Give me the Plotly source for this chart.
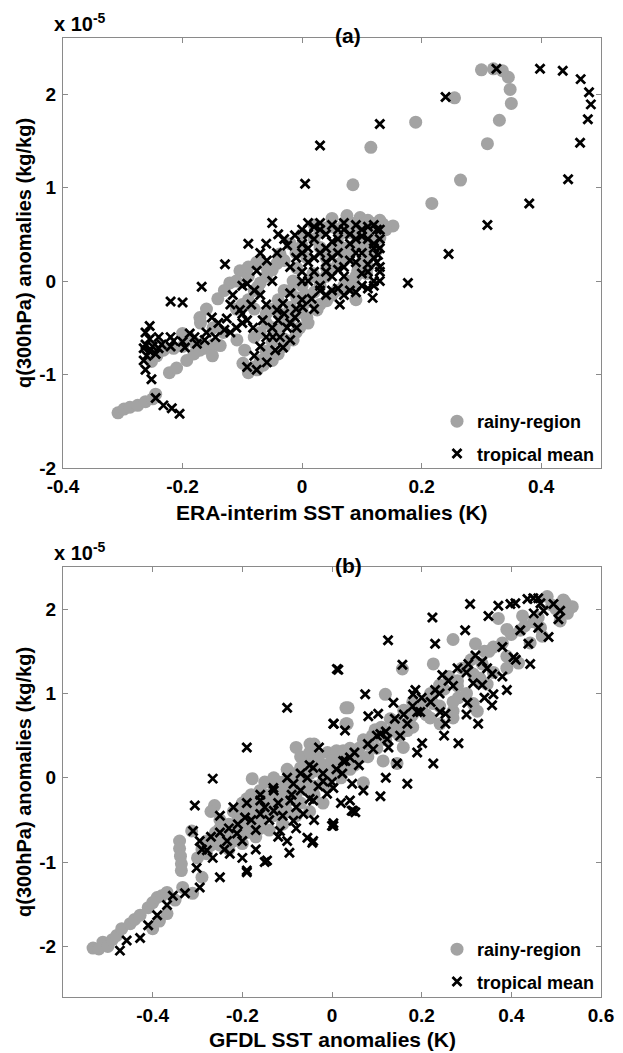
import plotly.graph_objects as go

# ---------------- Panel (a): ERA-interim ----------------
a_rainy_x = [-0.308,-0.298,-0.288,-0.275,-0.262,-0.25,-0.245,-0.222,-0.21,
             -0.252,-0.243,-0.232,-0.215,-0.2,-0.193,-0.181,-0.171,-0.16,-0.149,-0.137,-0.132,-0.149,-0.171,-0.2,
             -0.141,-0.121,-0.104,-0.076,-0.074,-0.09,
             -0.109,-0.096,-0.099,-0.09,-0.075,-0.065,-0.06,-0.049,-0.037,-0.02,-0.009,0.005,-0.015,-0.004,0.008,
             0.025,0.041,0.058,0.075,0.093,0.108,0.125,0.13,0.135,0.097,0.075,0.05,0.041,0.063,0.092,0.03,0.008,
             -0.009,-0.042,-0.037,0.108,0.085,0.018,0.041,0.051,0.075,0.03,-0.015,0.152,0.115,0.02,0.0,-0.03,-0.04,
             -0.05,0.06,0.1,0.11,0.09,0.07,-0.06,-0.08,-0.03,-0.02,0.12,0.14,
             -0.08,-0.07,-0.06,-0.05,-0.04,-0.03,-0.02,-0.01,0.0,0.01,0.02,0.03,0.04,0.05,0.06,0.07,0.08,0.09,
             0.1,0.11,0.12,0.13,0.11,0.09,0.07,0.05,0.03,0.02,0.0,-0.01,-0.03,-0.05,-0.06,-0.07,-0.08,-0.09,
             -0.1,-0.11,-0.06,-0.07,-0.08,-0.05,-0.04,-0.02,0.0,0.02,0.04,0.06,0.08,0.1,0.12,0.11,0.1,0.09,
             0.07,0.05,0.03,0.01,-0.01,-0.03,-0.17,-0.16,-0.13,-0.11,-0.09,-0.07,-0.06,-0.19,-0.18,-0.15,
             0.085,0.217,0.265,0.31,0.33,0.35,0.348,0.345,0.335,0.32,0.3,0.255,0.19,0.115]
a_rainy_y = [-1.41,-1.37,-1.35,-1.33,-1.29,-1.26,-1.21,-0.98,-0.93,
             -0.86,-0.8,-0.74,-0.72,-0.7,-0.85,-0.78,-0.74,-0.72,-0.68,-0.69,-0.55,-0.5,-0.39,-0.56,
             -0.19,-0.02,0.11,0.2,-0.06,0.05,
             -0.63,-0.74,-0.88,-0.98,-0.95,-0.9,-0.82,-0.5,-0.35,-0.28,-0.18,-0.15,-0.63,-0.5,-0.39,
             -0.31,-0.21,-0.1,0.0,0.11,0.22,0.33,0.46,0.61,0.68,0.7,0.67,0.57,0.5,0.48,0.36,0.25,
             0.14,0.19,0.29,0.08,-0.07,0.08,0.14,0.33,0.25,0.0,0.0,0.59,0.62,0.6,0.5,-0.7,-0.78,
             -0.85,0.55,0.4,0.15,-0.2,0.35,-0.35,-0.3,-0.1,0.4,0.52,0.55,
             -0.92,-0.85,-0.75,-0.65,-0.55,-0.45,-0.4,-0.35,-0.3,-0.22,-0.12,-0.05,0.05,0.12,0.18,0.25,0.3,0.38,
             0.45,0.55,0.6,0.65,0.65,0.62,0.6,0.58,0.52,0.45,0.38,0.3,0.22,0.12,0.05,-0.02,-0.1,-0.2,
             -0.25,-0.3,-0.45,-0.55,-0.6,-0.3,-0.2,-0.1,-0.05,0.05,0.25,0.4,0.52,0.58,0.45,0.35,0.2,0.05,
             -0.05,-0.15,-0.25,-0.45,-0.55,-0.62,-0.45,-0.3,-0.1,0.0,0.15,0.22,0.15,-0.6,-0.66,-0.8,
             1.03,0.83,1.08,1.47,1.72,1.9,2.05,2.18,2.25,2.27,2.26,1.96,1.7,1.43]

a_trop_x = [-0.205,-0.218,-0.232,-0.245,-0.252,-0.262,-0.265,-0.26,-0.255,-0.245,-0.25,-0.262,-0.235,-0.215,
            -0.262,-0.255,-0.22,-0.2,
            -0.168,-0.129,-0.09,-0.05,-0.151,-0.126,-0.188,-0.176,-0.196,-0.163,-0.145,-0.13,
            -0.116,-0.092,-0.076,-0.059,-0.042,-0.025,-0.012,0.0,0.01,
            -0.092,-0.076,-0.059,-0.045,-0.037,-0.025,-0.012,0.001,0.016,0.03,-0.104,-0.092,-0.082,-0.066,
            -0.042,-0.032,-0.02,-0.049,-0.032,-0.02,-0.009,-0.1,-0.085,
            0.0,0.02,0.03,0.05,0.07,0.09,0.11,0.125,0.13,0.12,0.1,0.08,0.06,0.04,0.02,0.05,0.07,0.09,0.11,
            0.125,0.13,0.12,0.1,0.08,0.06,0.04,0.06,0.1,0.127,0.118,0.063,0.177,-0.05,0.0,0.01,
            0.0,0.01,0.02,0.03,0.04,0.05,0.06,0.07,0.08,0.09,0.1,0.11,0.12,0.13,0.13,0.12,0.11,0.13,0.12,
            0.1,0.09,0.08,0.07,0.06,0.05,0.04,0.03,0.02,0.01,-0.01,-0.02,0.0,0.01,0.03,0.05,0.07,0.09,0.11,
            0.13,0.12,-0.03,-0.04,-0.06,-0.07,
            -0.1,-0.11,-0.12,-0.08,-0.07,-0.06,-0.05,-0.04,-0.03,-0.02,-0.01,0.0,0.02,0.04,-0.06,-0.07,-0.08,
            -0.1,-0.12,-0.14,-0.16,-0.18,-0.2,-0.22,-0.24,-0.265,-0.255,-0.24,-0.22,
            0.005,0.03,0.13,0.24,0.325,0.398,0.436,0.466,0.48,0.483,0.478,0.465,0.445,0.38,0.31,0.245]
a_trop_y = [-1.42,-1.36,-1.33,-1.25,-1.05,-0.95,-0.85,-0.8,-0.75,-0.78,-0.7,-0.68,-0.68,-0.64,
            -0.55,-0.48,-0.22,-0.23,
            -0.06,0.18,0.4,0.62,-0.39,-0.4,-0.56,-0.67,-0.71,-0.63,-0.6,-0.52,
            -0.15,-0.03,0.11,0.22,0.3,0.38,0.49,0.55,0.62,
            -0.92,-0.95,-0.87,-0.74,-0.6,-0.5,-0.39,-0.28,-0.19,-0.1,-0.31,-0.42,-0.5,-0.42,
            -0.31,-0.24,-0.13,-0.6,-0.71,-0.63,-0.5,-0.35,-0.25,
            0.3,0.45,0.55,0.6,0.55,0.6,0.58,0.55,0.45,0.35,0.3,0.4,0.3,0.2,0.1,0.05,0.15,0.2,0.18,
            0.2,0.1,0.0,-0.05,-0.1,-0.08,0.35,0.45,0.48,0.28,-0.18,-0.25,-0.02,0.0,0.0,0.2,
            0.4,0.5,0.58,0.62,0.5,0.42,0.55,0.62,0.5,0.45,0.55,0.45,0.6,0.55,0.35,0.25,0.1,0.0,-0.05,
            0.08,0.3,0.22,0.05,0.12,0.25,0.1,0.3,0.25,0.35,0.25,0.15,0.1,0.0,-0.05,-0.1,-0.15,-0.12,-0.08,
            0.15,0.4,0.45,0.5,0.4,0.3,
            -0.45,-0.5,-0.55,-0.8,-0.7,-0.6,-0.5,-0.42,-0.35,-0.45,-0.3,-0.2,-0.3,-0.15,-0.25,-0.15,-0.1,
            -0.05,-0.25,-0.45,-0.55,-0.6,-0.65,-0.7,-0.72,-0.72,-0.62,-0.6,-0.6,
            1.04,1.45,1.68,1.97,2.27,2.27,2.25,2.16,2.02,1.89,1.73,1.48,1.09,0.83,0.6,0.29]

# ---------------- Panel (b): GFDL ----------------
b_rainy_x = [-0.533,-0.52,-0.511,-0.5,-0.49,-0.48,-0.469,-0.45,-0.44,-0.428,-0.41,-0.4,-0.39,-0.38,-0.368,
             -0.4,-0.385,-0.368,-0.35,-0.333,-0.311,
             -0.34,-0.34,-0.338,-0.336,-0.336,-0.313,-0.29,-0.262,-0.266,-0.178,-0.08,-0.04,0.031,0.031,
             -0.28,-0.26,-0.25,-0.24,-0.22,-0.21,-0.2,-0.19,-0.18,-0.17,-0.16,-0.15,-0.14,-0.13,-0.12,-0.11,
             -0.1,-0.09,-0.08,-0.07,-0.06,-0.05,-0.04,-0.03,-0.02,-0.01,0.0,0.01,0.02,0.03,0.04,
             -0.23,-0.2,-0.17,-0.14,-0.11,-0.08,-0.05,-0.02,-0.22,-0.19,-0.16,-0.12,-0.25,-0.27,
             0.48,0.516,0.536,0.525,0.509,0.465,0.469,0.442,0.39,0.416,0.425,0.39,0.371,0.27,0.32,0.226,0.157,
             0.119,0.036,0.034,0.096,0.335,0.315,0.33,0.346,0.28,0.282,0.315,0.324,0.27,0.226,0.219,0.241,
             0.27,0.175,0.168,0.159,0.145,0.114,0.063,0.07,0.045,-0.049,0.025,0.003,-0.02,
             0.06,0.08,0.1,0.13,0.15,0.18,0.2,0.22,0.25,0.28,0.3,0.35,0.38,0.42,0.45,0.5,
             -0.3,-0.29,-0.28,-0.27,-0.26,-0.25,-0.24,-0.23,-0.22,-0.21,-0.2,-0.19,-0.18,-0.17,-0.16,-0.15,
             -0.14,-0.13,-0.12,-0.11,-0.1,-0.09,-0.08,-0.07,-0.06,-0.05,-0.04,-0.03,-0.02,-0.01,0.0,0.01,
             0.02,0.04,0.05,0.07,0.09,0.11,0.13,0.14,0.16,0.18,0.2,0.22,0.24,0.26,0.29,0.31,0.34,0.36,0.4,
             0.43,0.46,0.49,0.52,
             -0.2,-0.18,-0.15,-0.13,-0.1,-0.07,-0.05,-0.22,-0.19,-0.16,-0.13,-0.1,-0.07,-0.04,-0.01,0.02,
             0.05,0.08,0.1,0.12,0.15,0.18,0.21,0.24,0.27,0.3,0.33,0.36,0.39]
b_rainy_y = [-2.02,-2.03,-1.95,-2.0,-1.92,-1.87,-1.79,-1.73,-1.68,-1.63,-1.54,-1.48,-1.42,-1.4,-1.36,
             -1.79,-1.7,-1.61,-1.45,-1.3,-1.37,
             -0.75,-0.84,-0.93,-1.02,-1.1,-0.63,-1.18,-0.33,-0.72,-0.01,0.36,0.4,0.83,0.64,
             -0.75,-0.65,-0.8,-0.6,-0.7,-0.5,-0.62,-0.45,-0.55,-0.35,-0.5,-0.3,-0.42,-0.2,-0.35,-0.15,
             -0.28,-0.05,-0.2,0.0,-0.12,0.05,-0.1,0.1,-0.05,0.15,0.05,0.2,0.0,0.25,0.1,
             -0.85,-0.78,-0.7,-0.62,-0.55,-0.45,-0.4,-0.3,-0.4,-0.25,-0.15,-0.05,-0.5,-0.4,
             2.15,2.11,2.03,1.95,1.86,1.78,1.68,1.6,1.44,1.36,1.92,1.76,1.89,1.64,1.59,1.35,1.29,
             0.99,0.83,0.64,0.57,1.35,1.23,1.18,1.11,1.09,0.95,0.88,0.79,0.79,0.88,0.71,0.64,
             0.71,0.71,0.56,0.36,0.17,0.2,0.24,-0.06,0.2,0.4,0.32,0.2,0.08,
             0.35,0.4,0.5,0.55,0.65,0.75,0.85,0.95,1.05,1.15,1.3,1.5,1.6,1.75,1.85,2.0,
             -0.95,-0.85,-0.9,-0.8,-0.75,-0.6,-0.7,-0.55,-0.6,-0.4,-0.5,-0.35,-0.42,-0.25,-0.35,-0.2,
             -0.28,-0.1,-0.22,-0.05,-0.15,0.05,-0.08,0.12,0.0,0.2,0.08,0.25,0.15,0.3,0.2,0.32,
             0.25,0.35,0.28,0.45,0.5,0.6,0.7,0.6,0.8,0.9,0.85,1.0,1.1,1.2,1.3,1.4,1.5,1.55,1.7,
             1.8,1.9,2.05,2.08,
             -0.3,-0.2,-0.05,0.0,0.1,0.25,0.3,-0.75,-0.65,-0.6,-0.45,-0.4,-0.3,-0.2,-0.1,0.1,
             0.15,0.25,0.35,0.45,0.5,0.6,0.75,0.85,0.9,1.0,1.15,1.25,1.3]

b_trop_x = [-0.473,-0.458,-0.428,-0.41,-0.39,-0.368,-0.355,-0.328,-0.306,-0.31,-0.295,-0.302,-0.295,
            -0.266,-0.19,-0.1,0.011,0.004,-0.029,-0.25,-0.19,-0.15,-0.095,-0.044,0.0,0.044,
            -0.194,-0.16,-0.131,-0.16,-0.13,-0.093,-0.086,-0.055,-0.042,-0.02,-0.064,-0.042,-0.011,0.003,
            0.023,0.025,0.04,0.04,0.047,-0.234,-0.212,-0.279,-0.266,-0.228,-0.19,-0.145,-0.116,-0.1,-0.086,
            -0.055,-0.042,0.003,
            0.308,0.224,0.297,0.125,0.23,0.014,0.157,0.246,0.304,0.335,0.346,0.357,0.27,0.315,0.335,0.36,
            0.39,0.357,0.302,0.326,0.282,0.226,0.168,0.108,0.052,0.003,0.253,0.23,0.181,0.186,0.137,0.074,
            0.081,0.103,0.003,0.029,0.201,0.241,0.253,0.197,0.145,0.045,0.108,0.123,0.092,0.126,0.152,
            0.168,0.19,
            0.349,0.371,0.398,0.409,0.436,0.449,0.46,0.465,0.472,0.494,0.509,0.505,0.46,0.483,0.438,
            0.405,0.442,
            -0.29,-0.27,-0.25,-0.23,-0.21,-0.2,-0.18,-0.17,-0.15,-0.14,-0.12,-0.11,-0.09,-0.08,-0.07,-0.05,
            -0.03,-0.02,0.0,0.01,0.03,0.05,0.06,0.08,0.1,0.12,0.14,0.16,0.18,0.2,0.22,0.24,0.26,0.28,0.3,
            0.32,0.38,0.42,0.45,-0.25,-0.22,-0.19,-0.16,-0.13,-0.1,-0.07,-0.05,-0.24,-0.2,-0.17,-0.12,-0.08,
            -0.04,0.02,0.07,0.12,0.19,0.25,0.3,0.34,0.38,0.41]
b_trop_y = [-2.05,-1.93,-1.9,-1.75,-1.63,-1.51,-1.4,-1.37,-0.33,-0.63,-0.75,-1.07,-1.3,
            -0.01,0.36,0.83,1.29,0.64,0.36,-1.18,-1.12,-1.0,-0.89,-0.77,-0.57,-0.39,
            -0.47,-0.27,-0.12,-0.43,-0.39,-0.27,-0.07,0.0,0.12,-0.04,-0.43,-0.27,-0.19,-0.12,
            0.05,0.2,0.24,-0.27,-0.39,-0.75,-0.66,-0.86,-0.95,-0.9,-1.1,-0.98,-0.63,-0.75,-0.51,
            -0.71,-0.75,-0.57,
            2.06,1.9,1.75,1.63,1.59,1.28,1.34,1.22,1.35,1.38,1.3,1.23,1.09,1.12,1.1,0.99,
            1.04,0.86,0.89,0.64,0.41,0.17,-0.07,-0.22,-0.41,-0.54,0.76,1.04,0.99,1.04,0.89,0.99,
            0.73,0.76,0.64,0.56,0.41,0.78,0.64,0.78,0.17,-0.07,0.52,0.46,0.34,0.36,0.5,
            0.64,0.78,
            1.92,2.04,2.06,2.07,2.12,2.13,2.13,2.07,1.98,2.06,1.98,1.88,1.78,1.67,1.59,
            1.43,1.35,
            -0.85,-0.7,-0.65,-0.6,-0.55,-0.75,-0.5,-0.62,-0.35,-0.5,-0.3,-0.45,-0.2,-0.35,-0.15,-0.25,
            -0.1,0.05,-0.05,0.1,0.2,0.3,0.15,0.4,0.5,0.55,0.7,0.75,0.85,0.95,0.9,1.0,1.15,1.3,1.25,
            1.45,1.55,1.75,1.95,-0.45,-0.35,-0.3,-0.2,-0.15,0.0,0.05,0.15,-0.85,-0.95,-0.85,-0.7,-0.6,
            -0.5,-0.3,-0.15,0.0,0.3,0.5,0.75,0.95,1.2,1.4]

x_ticks_a = [-0.4, -0.2, 0, 0.2, 0.4]
x_ticks_b = [-0.4, -0.2, 0, 0.2, 0.4, 0.6]
y_ticks = [-2, -1, 0, 1, 2]

def lab(v):
    return "%g" % v

GRAY = "#a3a3a3"
FONT = "Liberation Sans"

# The page body has an 8px margin; the figure is sized to fill the rest of the 623x1053 window.
OFF = 8
W, H = 623 - OFF, 1053 - OFF

def sx(px):
    return (px - OFF) / W

def sy(py):
    return 1 - (py - OFF) / H

fig = go.Figure()

circ = dict(symbol="circle", size=13, color=GRAY, line=dict(width=0))
cross = dict(symbol="x-thin", size=9, color="black", line=dict(width=2.8, color="black"))

fig.add_trace(go.Scatter(x=a_rainy_x, y=a_rainy_y, mode="markers", marker=circ,
                         name="rainy-region", xaxis="x", yaxis="y", legend="legend", legendgroup="a1"))
fig.add_trace(go.Scatter(x=a_trop_x, y=a_trop_y, mode="markers", marker=cross,
                         name="tropical mean", xaxis="x", yaxis="y", legend="legend", legendgroup="a2"))
fig.add_trace(go.Scatter(x=b_rainy_x, y=b_rainy_y, mode="markers", marker=circ,
                         name="rainy-region", xaxis="x2", yaxis="y2", legend="legend2", legendgroup="b1"))
fig.add_trace(go.Scatter(x=b_trop_x, y=b_trop_y, mode="markers", marker=cross,
                         name="tropical mean", xaxis="x2", yaxis="y2", legend="legend2", legendgroup="b2"))

xdom = [sx(63), sx(601)]
ya_dom = [sy(468), sy(38)]
yb_dom = [sy(997), sy(567)]

axis_common = dict(showgrid=False, zeroline=False, showline=True, linecolor="#8a8a8a", linewidth=1,
                   mirror="ticks", ticks="inside", ticklen=5, tickcolor="#8a8a8a", tickwidth=1,
                   automargin=False, ticklabeloverflow="allow",
                   tickfont=dict(family=FONT, size=19, color="black", weight="bold"))

legfont = dict(family=FONT, size=18, color="black", weight="bold")
fig.update_layout(
    width=W, height=H, margin=dict(l=0, r=0, t=0, b=0, autoexpand=False),
    paper_bgcolor="white", plot_bgcolor="white",
    font=dict(family=FONT, color="black"),
    xaxis=dict(domain=xdom, range=[-0.4, 0.5], anchor="y", tickvals=x_ticks_a,
               ticktext=[lab(v) for v in x_ticks_a], ticklabelstandoff=1, **axis_common),
    yaxis=dict(domain=ya_dom, range=[-2, 2.6], anchor="x", tickvals=y_ticks,
               ticktext=[lab(v) for v in y_ticks], ticklabelstandoff=2, **axis_common),
    xaxis2=dict(domain=xdom, range=[-0.6, 0.6], anchor="y2", tickvals=x_ticks_b,
                ticktext=[lab(v) for v in x_ticks_b], ticklabelstandoff=1, **axis_common),
    yaxis2=dict(domain=yb_dom, range=[-2.6, 2.5], anchor="x2", tickvals=y_ticks,
                ticktext=[lab(v) for v in y_ticks], ticklabelstandoff=2, **axis_common),
    legend=dict(x=sx(600), y=sy(472), xanchor="right", yanchor="bottom", bgcolor="rgba(0,0,0,0)",
                borderwidth=0, font=legfont, tracegroupgap=6, itemwidth=30),
    legend2=dict(x=sx(600), y=sy(1000), xanchor="right", yanchor="bottom", bgcolor="rgba(0,0,0,0)",
                 borderwidth=0, font=legfont, tracegroupgap=6, itemwidth=30),
    showlegend=True,
)

bold = dict(family=FONT, size=20, color="black", weight="bold")
ann = []
ann.append(dict(text="(a)", xref="paper", yref="paper", x=sx(348), y=sy(36), xanchor="center",
                yanchor="middle", showarrow=False, font=dict(bold, size=21)))
ann.append(dict(text="(b)", xref="paper", yref="paper", x=sx(348), y=sy(565), xanchor="center",
                yanchor="middle", showarrow=False, font=dict(bold, size=21)))
for top in (38, 567):
    ann.append(dict(text="x 10<sup>-5</sup>", xref="paper", yref="paper", x=sx(52), y=sy(top - 1),
                    xanchor="left", yanchor="bottom", showarrow=False, font=bold))
ann.append(dict(text="ERA-interim SST anomalies (K)", xref="paper", yref="paper", x=sx(332), y=sy(513),
                xanchor="center", yanchor="middle", showarrow=False, font=dict(bold, size=21)))
ann.append(dict(text="GFDL SST anomalies (K)", xref="paper", yref="paper", x=sx(332), y=sy(1039),
                xanchor="center", yanchor="middle", showarrow=False, font=dict(bold, size=21)))
for mid in ((38 + 468) / 2, (567 + 997) / 2):
    ann.append(dict(text="q(300hPa) anomalies (kg/kg)", xref="paper", yref="paper", x=sx(24), y=sy(mid),
                    xanchor="center", yanchor="middle", textangle=-90, showarrow=False, font=bold))
fig.update_layout(annotations=ann)

fig.write_html("out.html")
